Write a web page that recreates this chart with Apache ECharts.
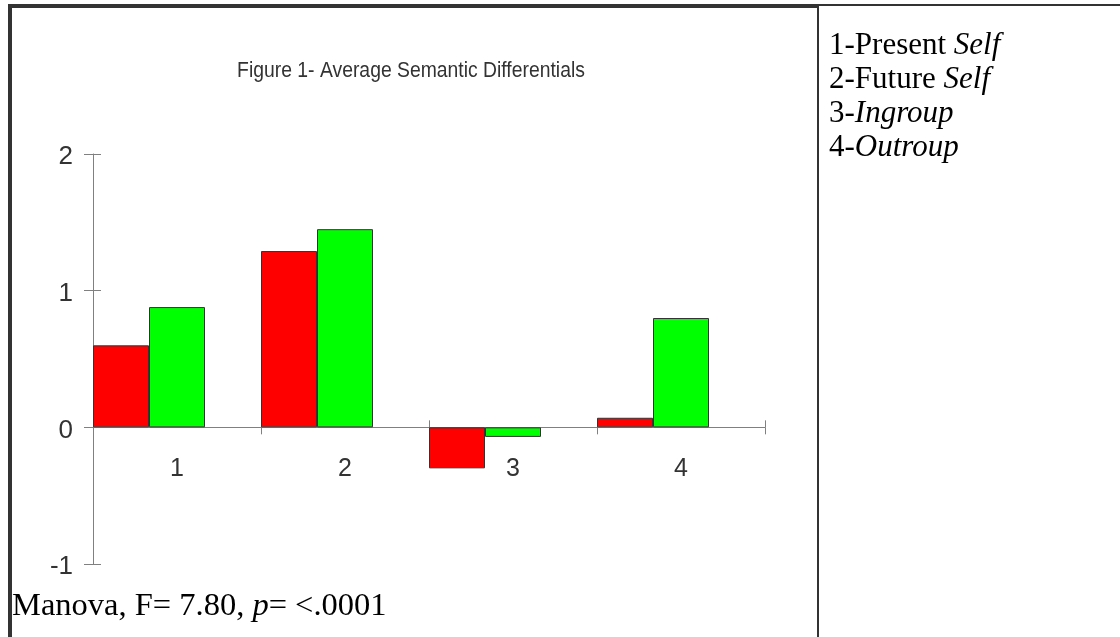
<!DOCTYPE html>
<html>
<head>
<meta charset="utf-8">
<script src="https://cdn.jsdelivr.net/npm/echarts@6/dist/echarts.min.js"></script>
<style>
html,body{margin:0;padding:0;background:#fff;}
#chart{width:1120px;height:637px;}
</style>
</head>
<body>
<div id="chart"></div>
<script>
// ---- data ----
var categories = ['1', '2', '3', '4'];
var seriesRed = [0.60, 1.29, -0.30, 0.07];
var seriesGreen = [0.88, 1.45, -0.07, 0.80];
var spacer = [null, null, null, null];
var yTicks = { min: -1, max: 2, interval: 1 };
var titleText = 'Figure 1- Average Semantic Differentials';
var legendLines = [
  ['1-Present ', 'Self'],
  ['2-Future ', 'Self'],
  ['3-', 'Ingroup'],
  ['4-', 'Outroup']
];
var noteParts = ['Manova, F= 7.80, ', 'p', '= <.0001'];

// ---- chart ----
var chart = echarts.init(document.getElementById('chart'), null, {renderer: 'canvas'});
var sans = "'Liberation Sans', Arial, sans-serif";
var serif = "'Liberation Serif', 'Times New Roman', serif";
var axisCol = '#808080';

var gridTop = 154, gridHeight = 410;
// place the category axis on the value zero line
var zeroOffset = -gridHeight * (0 - yTicks.min) / (yTicks.max - yTicks.min);

var graphics = [
  // frame
  {type: 'rect', shape: {x: 8, y: 4, width: 810, height: 4}, style: {fill: '#333'}},
  {type: 'rect', shape: {x: 8, y: 4, width: 4, height: 640}, style: {fill: '#333'}},
  {type: 'rect', shape: {x: 817, y: 4, width: 2, height: 640}, style: {fill: '#333'}},
  {type: 'rect', shape: {x: 817, y: 4, width: 303, height: 2}, style: {fill: '#333'}},
  // title
  {type: 'text', x: 411, y: 71, scaleX: 0.9, scaleY: 1.05,
   style: {text: titleText, x: 0, y: 0, textAlign: 'center', textVerticalAlign: 'middle',
           font: "21.5px 'Liberation Sans', Arial, sans-serif", fill: '#333'}}
];
legendLines.forEach(function (l, i) {
  graphics.push({
    type: 'text', x: 829, y: 46 + i * 34,
    style: {
      text: '{r|' + l[0] + '}{i|' + l[1] + '}',
      x: 0, y: 0, textVerticalAlign: 'middle',
      rich: {
        r: {fontFamily: serif, fontSize: 31, color: '#333'},
        i: {fontFamily: serif, fontSize: 31, fontStyle: 'italic', color: '#333'}
      }
    }
  });
});
graphics.push({
  type: 'text', x: 12, y: 606,
  style: {
    text: '{r|' + noteParts[0] + '}{i|' + noteParts[1] + '}{r|' + noteParts[2] + '}',
    x: 0, y: 0, textVerticalAlign: 'middle',
    rich: {
      r: {fontFamily: serif, fontSize: 32.5, color: '#222'},
      i: {fontFamily: serif, fontSize: 32.5, fontStyle: 'italic', color: '#222'}
    }
  }
});

var baseX = {
  type: 'category', data: categories, gridIndex: 0, position: 'bottom', offset: zeroOffset,
  boundaryGap: true,
  axisLine: {show: true, onZero: false, lineStyle: {color: axisCol, width: 1}},
  axisTick: {show: true, alignWithLabel: false, length: 7, lineStyle: {color: axisCol}},
  axisLabel: {show: true, margin: 29, fontFamily: sans, fontSize: 25, color: '#333'},
  splitLine: {show: false}
};
var innerX = {
  type: 'category', data: categories, gridIndex: 0, position: 'bottom', offset: zeroOffset,
  boundaryGap: true,
  axisLine: {show: false, onZero: false},
  axisTick: {show: true, inside: true, alignWithLabel: false, length: 7, lineStyle: {color: axisCol}},
  axisLabel: {show: false},
  splitLine: {show: false}
};
var baseY = {
  type: 'value', min: yTicks.min, max: yTicks.max, interval: yTicks.interval, position: 'left',
  axisLine: {show: true, onZero: false, lineStyle: {color: axisCol, width: 1}},
  axisTick: {show: true, length: 9, lineStyle: {color: axisCol}},
  axisLabel: {show: true, margin: 20, fontFamily: sans, fontSize: 26, color: '#333',
              verticalAlign: 'top', lineHeight: 6},
  splitLine: {show: false}
};
var innerY = {
  type: 'value', min: yTicks.min, max: yTicks.max, interval: yTicks.interval, position: 'left', offset: 0,
  axisLine: {show: false, onZero: false},
  axisTick: {show: true, inside: true, length: 8, lineStyle: {color: axisCol}},
  axisLabel: {show: false},
  splitLine: {show: false}
};

var barStyle = function (c) { return {color: c, borderColor: '#333', borderWidth: 1}; };

chart.setOption({
  animation: false,
  backgroundColor: '#fff',
  grid: {left: 93, top: gridTop, width: 672, height: gridHeight, containLabel: false},
  xAxis: [baseX, innerX],
  yAxis: [baseY, innerY],
  series: [
    {type: 'bar', name: 'red', data: seriesRed, xAxisIndex: 0, yAxisIndex: 0,
     barGap: '0%', barCategoryGap: '0%', itemStyle: barStyle('#ff0000')},
    {type: 'bar', name: 'green', data: seriesGreen, xAxisIndex: 0, yAxisIndex: 0,
     barGap: '0%', barCategoryGap: '0%', itemStyle: barStyle('#00ff00')},
    {type: 'bar', name: 'spacer', data: spacer, xAxisIndex: 0, yAxisIndex: 0,
     barGap: '0%', barCategoryGap: '0%', itemStyle: {color: 'transparent'}}
  ],
  graphic: graphics
});
</script>
</body>
</html>
